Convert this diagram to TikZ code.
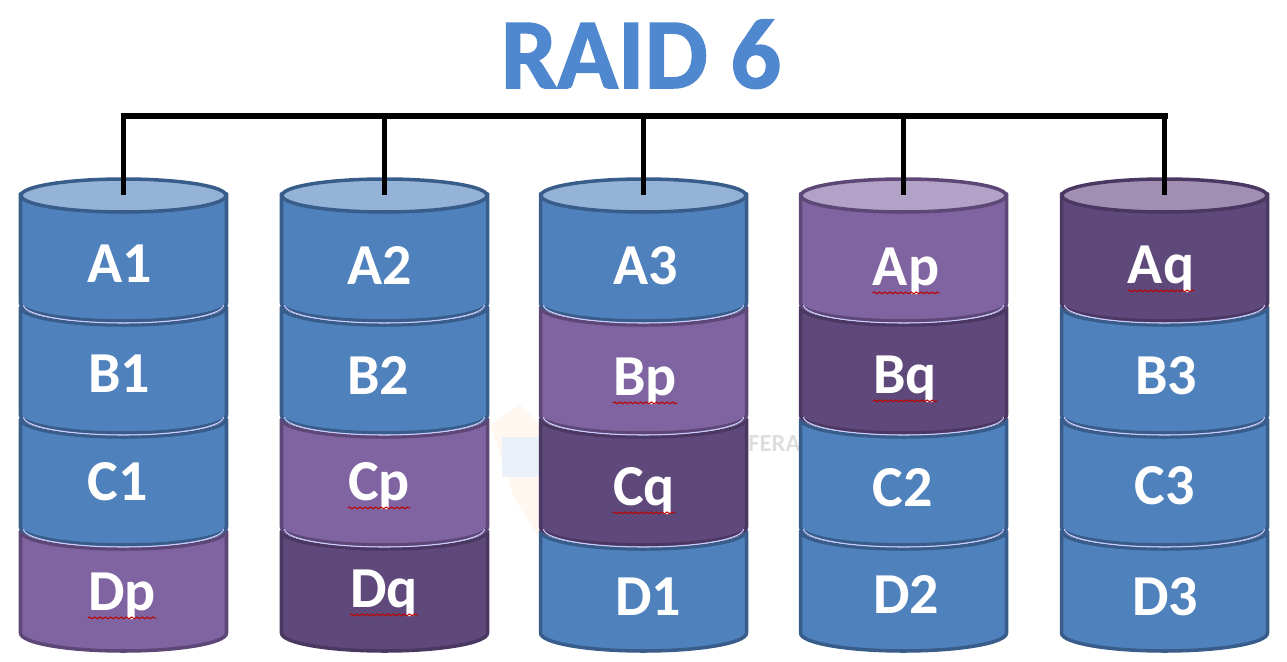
\documentclass[tikz,border=0pt]{standalone}
\usepackage{fontspec}
\setmainfont{Carlito}
\newfontfamily\titlefont[BoldFeatures={FakeBold=1.5}]{Carlito}
\usetikzlibrary{shapes.geometric,decorations.pathmorphing}

\definecolor{blueFill}{HTML}{4F81BD}
\definecolor{blueLine}{HTML}{385D8A}
\definecolor{blueTop}{HTML}{95B3D7}
\definecolor{purpleFill}{HTML}{8064A2}
\definecolor{purpleLine}{HTML}{5C4776}
\definecolor{purpleTop}{HTML}{B3A2C7}
\definecolor{darkFill}{HTML}{5F497A}
\definecolor{darkLine}{HTML}{4A3862}
\definecolor{darkTop}{HTML}{A08FB3}
\definecolor{titleblue}{HTML}{5088D0}
\definecolor{markblue}{HTML}{EAF1F8}

\tikzset{
  disctop/.style={ellipse, minimum width=4.1cm, minimum height=0.66cm, inner sep=0pt, line width=2pt},
  seglabel/.style={anchor=base, inner sep=0pt, text=white, font=\bfseries\fontsize{33}{36}\selectfont},
  squiggle/.style={red!75!black, line width=0.6pt, decorate, decoration={snake, amplitude=0.5pt, segment length=3pt}}
}

\begin{document}
\begin{tikzpicture}[x=0.02cm, y=-0.02cm]
\useasboundingbox (0,0) rectangle (1287,662);

\node[anchor=base, inner sep=0pt, text=titleblue, font=\titlefont\bfseries\fontsize{57}{60}\selectfont] (title) at (641,88) {RAID 6};

%faint mark behind the middle disc
\fill[orange!6] (490,425) -- (520,405) -- (541,425) -- (541,540) -- (515,500) -- cycle;
\fill[markblue] (502,437) rectangle (541,477);
\node[anchor=base west, inner sep=0pt, text=black!13, font=\bfseries\fontsize{14}{16}\selectfont] (mark) at (748,451) {FERA};

%segments go from the bottom up, so each one sits on the next
\foreach \lab/\lx/\ly/\xc/\ya/\yb/\base in {
  Dp/122/610/123.5/531/633/purple, C1/118/500/123.5/419/527/blue, B1/119/392/123.5/307/415/blue, A1/120/282/123.5/193.5/303/blue,
  Dq/384/607/384.5/531/633/dark, Cp/379/500/384.5/419/527/purple, B2/378/394/384.5/307/415/blue, A2/380/284/384.5/193.5/303/blue,
  D1/648/615/643.5/531/633/blue, Cq/644/505/643.5/419/527/dark, Bp/645/395/643.5/307/415/purple, A3/646/284/643.5/193.5/303/blue,
  D2/906/613/903.5/531/633/blue, C2/903/506/903.5/419/527/blue, Bq/905/393/903.5/307/415/dark, Ap/906/285/903.5/193.5/303/purple,
  D3/1165/615/1164.5/531/633/blue, C3/1165/504/1164.5/419/527/blue, B3/1166/394/1164.5/307/415/blue, Aq/1161/283/1164.5/193.5/303/dark}{
  \draw[fill=\base Fill, draw=\base Line, line width=2pt, line join=round]
    (\xc-103,\ya) arc[start angle=180, end angle=0, x radius=103, y radius=18]
    -- (\xc+103,\yb) arc[start angle=0, end angle=180, x radius=103, y radius=18] -- cycle;
  \node[seglabel] (\lab) at (\lx,\ly) {\lab};
}
%thin light seam under each of the three upper segments
\foreach \xc in {123.5,384.5,643.5,903.5,1164.5}{
  \foreach \ya in {305,417,529}{
    \draw[white!80!blue, line width=0.6pt] (\xc-100,\ya) arc[start angle=180, end angle=0, x radius=100, y radius=18];
  }
}

\foreach \lab in {Dp,Dq,Cp,Cq,Bp,Bq,Ap,Aq}{
  \draw[squiggle] ([yshift=-4.5pt]\lab.base west) -- ([yshift=-4.5pt]\lab.base east);
}

\node[disctop, draw=blueLine, fill=blueTop] (top1) at (123.5,195.5) {};
\node[disctop, draw=blueLine, fill=blueTop] (top2) at (384.5,195.5) {};
\node[disctop, draw=blueLine, fill=blueTop] (top3) at (643.5,195.5) {};
\node[disctop, draw=purpleLine, fill=purpleTop] (top4) at (903.5,195.5) {};
\node[disctop, draw=darkLine, fill=darkTop] (top5) at (1164.5,195.5) {};

\coordinate (bus1) at (123.5,116);
\coordinate (bus2) at (384.5,116);
\coordinate (bus3) at (643.5,116);
\coordinate (bus4) at (903.5,116);
\coordinate (bus5) at (1164.5,116);

\draw[line width=3.4pt, line cap=rect] (bus1) -- (bus5);
\foreach \i in {1,...,5}{
  \draw[line width=3.1pt] (bus\i) -- (top\i.center);
}
\end{tikzpicture}
\end{document}
